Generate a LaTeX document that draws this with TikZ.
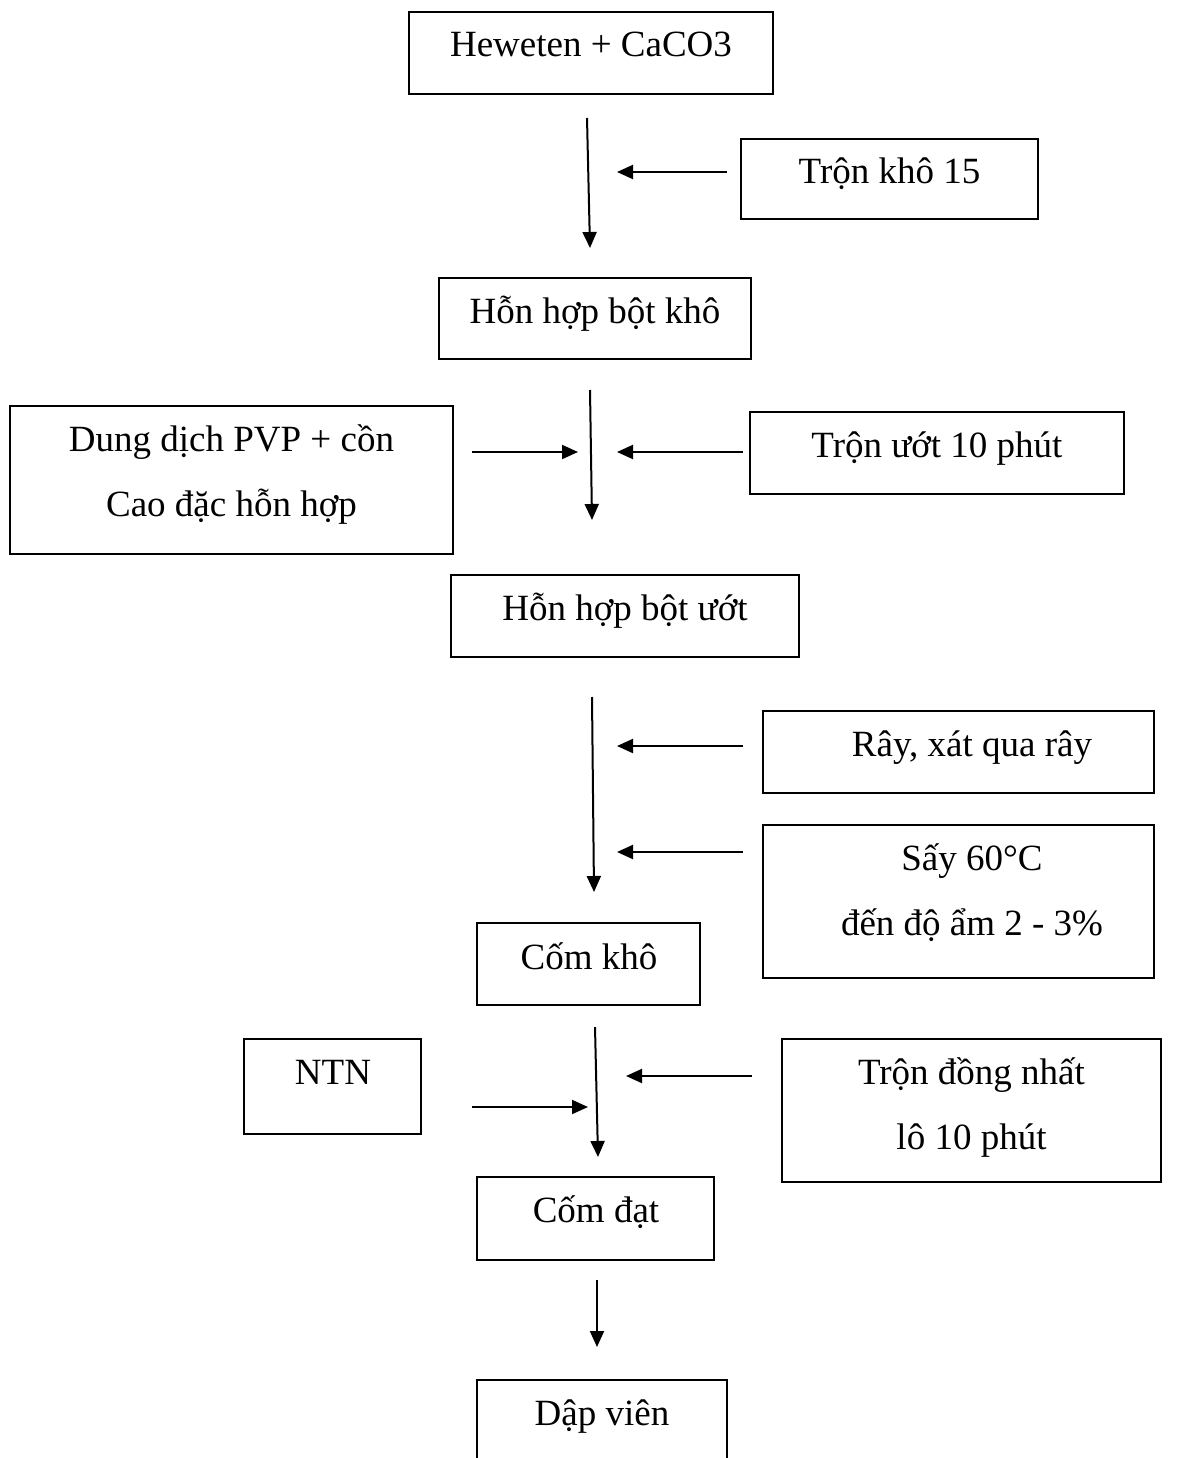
\documentclass[tikz,border=0pt]{standalone}
\usepackage{fontspec}
\setmainfont{Liberation Serif}
\usetikzlibrary{arrows.meta}
\tikzset{
  box/.style={draw=black, line width=2pt, rectangle, inner sep=0pt},
  txt/.style={anchor=base, inner sep=0pt, font=\fontsize{37}{65}\selectfont},
  arr/.style={line width=2pt, -{Triangle[length=16pt,width=14pt]}}
}
\begin{document}
\begin{tikzpicture}[x=1pt,y=-1pt]
\useasboundingbox[fill=white] (0,0) rectangle (1188,1458);
% boxes
\node[box, minimum width=364pt, minimum height=82pt] (b1) at (591,53) {};
\node[box, minimum width=297pt, minimum height=80pt] (b2) at (889.5,179) {};
\node[box, minimum width=312pt, minimum height=81pt] (b3) at (595,318.5) {};
\node[box, minimum width=443pt, minimum height=148pt] (b4) at (231.5,480) {};
\node[box, minimum width=374pt, minimum height=82pt] (b5) at (937,453) {};
\node[box, minimum width=348pt, minimum height=82pt] (b6) at (625,616) {};
\node[box, minimum width=391pt, minimum height=82pt] (b7) at (958.5,752) {};
\node[box, minimum width=391pt, minimum height=153pt] (b8) at (958.5,901.5) {};
\node[box, minimum width=223pt, minimum height=82pt] (b9) at (588.5,964) {};
\node[box, minimum width=177pt, minimum height=95pt] (b10) at (332.5,1086.5) {};
\node[box, minimum width=379pt, minimum height=143pt] (b11) at (971.5,1110.5) {};
\node[box, minimum width=237pt, minimum height=83pt] (b12) at (595.5,1218.5) {};
\node[box, minimum width=250pt, minimum height=90pt] (b13) at (602,1425) {};
% texts
\node[txt] (t1) at (591,57) {Heweten + CaCO3};
\node[txt] (t2) at (889.5,184) {Trộn khô 15};
\node[txt] (t3) at (595,323) {Hỗn hợp bột khô};
\node[txt] (t4a) at (231.5,451) {Dung dịch PVP + cồn};
\node[txt] (t4b) at (231.5,516) {Cao đặc hỗn hợp};
\node[txt] (t5) at (937,457) {Trộn ướt 10 phút};
\node[txt] (t6) at (625,620) {Hỗn hợp bột ướt};
\node[txt] (t7) at (972,756) {Rây, xát qua rây};
\node[txt] (t8a) at (972,870) {Sấy 60°C};
\node[txt] (t8b) at (972,935) {đến độ ẩm 2 - 3\%};
\node[txt] (t9) at (589,969) {Cốm khô};
\node[txt] (t10) at (333,1084) {NTN};
\node[txt] (t11a) at (971.5,1084) {Trộn đồng nhất};
\node[txt] (t11b) at (971.5,1149) {lô 10 phút};
\node[txt] (t12) at (596,1222) {Cốm đạt};
\node[txt] (t13) at (602,1425) {Dập viên};
% arrow end points
\coordinate (a1s) at (587,118);  \coordinate (a1e) at (590,248);
\coordinate (a2s) at (727,172);  \coordinate (a2e) at (617,172);
\coordinate (a3s) at (590,390);  \coordinate (a3e) at (592,520);
\coordinate (a4s) at (472,452);  \coordinate (a4e) at (578,452);
\coordinate (a5s) at (743,452);  \coordinate (a5e) at (617,452);
\coordinate (a6s) at (592,697);  \coordinate (a6e) at (594,892);
\coordinate (a7s) at (743,746);  \coordinate (a7e) at (617,746);
\coordinate (a8s) at (743,852);  \coordinate (a8e) at (617,852);
\coordinate (a9s) at (595,1027); \coordinate (a9e) at (598,1157);
\coordinate (a10s) at (472,1107); \coordinate (a10e) at (588,1107);
\coordinate (a11s) at (752,1076); \coordinate (a11e) at (626,1076);
\coordinate (a12s) at (597,1280); \coordinate (a12e) at (597,1347);
% arrows
\draw[arr] (a1s) -- (a1e);
\draw[arr] (a2s) -- (a2e);
\draw[arr] (a3s) -- (a3e);
\draw[arr] (a4s) -- (a4e);
\draw[arr] (a5s) -- (a5e);
\draw[arr] (a6s) -- (a6e);
\draw[arr] (a7s) -- (a7e);
\draw[arr] (a8s) -- (a8e);
\draw[arr] (a9s) -- (a9e);
\draw[arr] (a10s) -- (a10e);
\draw[arr] (a11s) -- (a11e);
\draw[arr] (a12s) -- (a12e);
\end{tikzpicture}
\end{document}
